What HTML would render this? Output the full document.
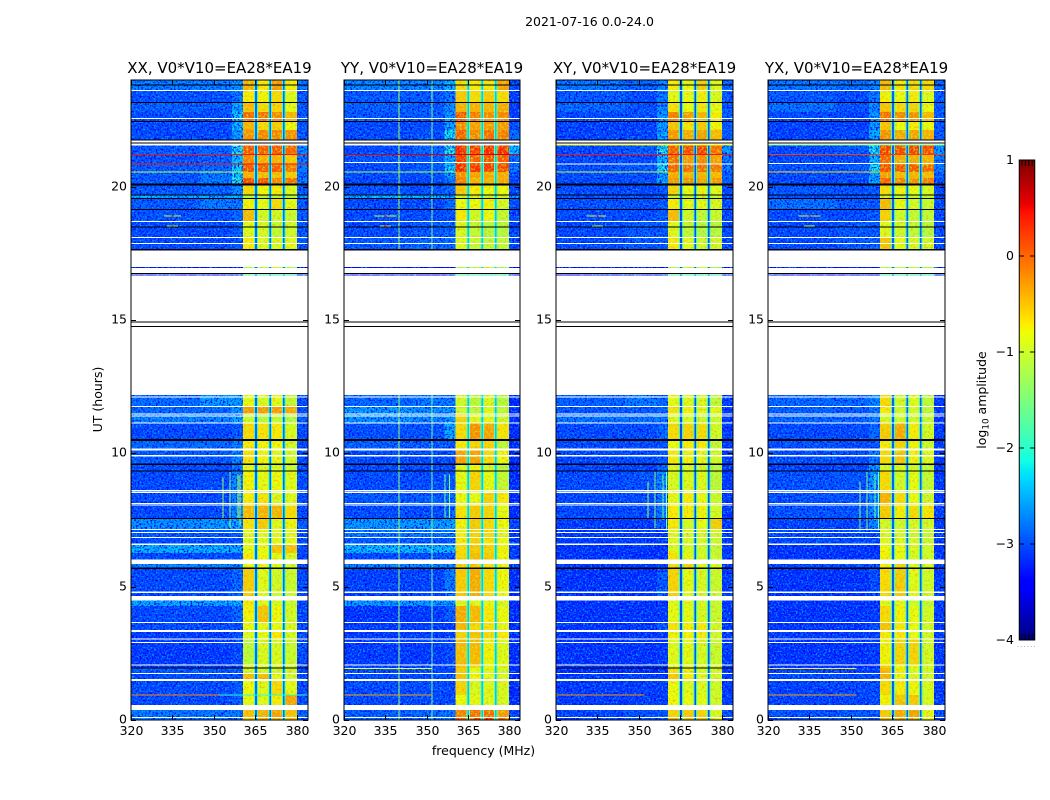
<!DOCTYPE html>
<html lang="en">
<head>
<meta charset="utf-8">
<title>2021-07-16 0.0-24.0</title>
<style>
html,body{margin:0;padding:0;background:#fff;}
#stage{display:block;width:1050px;height:800px;}
text{font-family:"DejaVu Sans","Liberation Sans",sans-serif;fill:#000;}
</style>
</head>
<body>
<svg id="stage" xmlns="http://www.w3.org/2000/svg" width="1050" height="800" viewBox="0 0 1050 800">
  <defs>
    <filter id="lowNoise" filterUnits="userSpaceOnUse" x="0" y="0" width="1050" height="800" color-interpolation-filters="sRGB">
      <feTurbulence type="fractalNoise" baseFrequency="0.55" numOctaves="2" seed="7" result="t"/>
      <feColorMatrix in="t" type="matrix" values="0 0 0 0 0  0 0 0 0 .62  0 0 0 0 1  3.6 0 0 0 -1.75" result="bright"/>
      <feColorMatrix in="t" type="matrix" values="0 0 0 0 0  0 0 0 0 0  0 0 0 0 1  0 4 0 0 -1.8" result="dark"/>
      <feMerge result="m"><feMergeNode in="dark"/><feMergeNode in="bright"/></feMerge>
      <feComposite in="m" in2="SourceAlpha" operator="in"/>
    </filter>
    <filter id="bandNoise" filterUnits="userSpaceOnUse" x="0" y="0" width="1050" height="800" color-interpolation-filters="sRGB">
      <feTurbulence type="fractalNoise" baseFrequency="0.45" numOctaves="2" seed="11" result="t"/>
      <feColorMatrix in="t" type="matrix" values="0 0 0 0 1  0 0 0 0 .6  0 0 0 0 0  3 0 0 0 -1.5" result="warm"/>
      <feColorMatrix in="t" type="matrix" values="0 0 0 0 .7  0 0 0 0 1  0 0 0 0 .2  0 3 0 0 -1.4" result="cool"/>
      <feMerge result="m"><feMergeNode in="warm"/><feMergeNode in="cool"/></feMerge>
      <feComposite in="m" in2="SourceAlpha" operator="in"/>
    </filter>
  </defs>
  <text x="589.5" y="26" font-size="12.5" text-anchor="middle">2021-07-16 0.0-24.0</text>
  <text x="0" y="0" font-size="12.5" text-anchor="middle" transform="translate(102 399.5) rotate(-90)">UT (hours)</text>
  <text x="483.5" y="755" font-size="12.5" text-anchor="middle">frequency (MHz)</text>
  <text x="0" y="0" font-size="12.5" text-anchor="middle" transform="translate(986 400) rotate(-90)">log<tspan font-size="8.8" dy="2.5">10</tspan><tspan dy="-2.5"> amplitude</tspan></text>
  <g id="panels"></g>
  <g id="colorbar"></g>
</svg>
<script>
// ---------- categories and ticks ----------
const panelTitles = ["XX, V0*V10=EA28*EA19", "YY, V0*V10=EA28*EA19", "XY, V0*V10=EA28*EA19", "YX, V0*V10=EA28*EA19"];
const freqTicks = [320, 335, 350, 365, 380];
const utTicks = [0, 5, 10, 15, 20];
const colorbarTicks = [1, 0, -1, -2, -3, -4];
const colorbarTickLabels = ["1", "0", "\u22121", "\u22122", "\u22123", "\u22124"];

// frequency channels (MHz); each channel reads a column of a matrix row, or a panel's gap levels
const channelEdges = [320, 345, 356.5, 360.5, 364.55, 364.9, 365.5, 365.85, 369.65, 370, 370.6, 370.95, 374.55, 374.9, 375.5, 375.85, 380, 384];
const channelSource = [0, 1, 2, 3, "edge", "gap", "edge", 4, "edge", "gap", "edge", 5, "edge", "gap", "edge", 6, 7];
const gapLevels = [-2.9, -2.4, -3, -2.9];
const gapEdgeLevels = [-1.9, -1.6, -2, -1.9];

// time rows: [UT start, UT end], hours
const rowSpans = [
[24.00,23.59],[23.59,23.17],[23.17,22.80],[22.80,22.46],[22.46,22.13],[22.13,21.75],[21.56,21.19],[21.19,20.84],
[20.84,20.55],[20.55,20.33],[20.33,20.06],[20.06,19.69],[19.69,19.54],[19.54,19.16],[19.16,18.67],[18.67,18.11],
[18.11,17.64],[16.98,16.95],[16.70,16.66],[12.19,11.76],[11.76,11.48],[11.48,11.14],[11.14,10.52],[10.50,10.14],
[10.14,9.59],[9.59,9.33],[9.33,8.54],[8.54,8.08],[8.08,7.56],[7.56,7.14],[7.14,6.85],[6.85,6.59],
[6.59,6.26],[6.26,6.00],[5.85,5.69],[5.69,4.50],[4.50,4.28],[4.28,3.66],[3.66,3.38],[3.30,3.03],
[3.03,2.07],[2.07,1.95],[1.95,1.75],[1.75,1.54],[1.46,0.94],[0.94,0.56],[0.375,0.09],[0.09,0.00]];

// log10 amplitude per row: [320-345, 345-356.5, 356.5-360.5, band1, band2, band3, band4, 380-384]
const rowsXX = [
[-2.65,-2.65,-2.5,-.35,-.7,-.2,-.7,-2.7],[-2.95,-2.95,-2.7,-.7,-.75,-.6,-.9,-2.9],[-2.85,-2.9,-2.4,-.4,-.6,-.55,-.85,-2.9],[-3,-3,-2.2,.05,.05,-.1,-.35,-2.9],
[-3,-3,-2.3,-.35,-.6,-.5,-.8,-2.9],[-3,-3,-2.5,-.15,-.1,-.1,-.15,-2.9],[-2.9,-2.8,-2,.15,.15,.2,.1,-2.6],[-2.95,-2.85,-2.3,-.1,-.35,-.35,-.5,-2.7],
[-2.9,-2.8,-2.2,.2,.15,.15,0,-2.7],[-2.9,-2.7,-2.2,-.35,-.4,-.4,-.5,-2.8],[-2.9,-2.7,-2,.25,.2,-.1,.05,-2.7],[-2.9,-2.8,-2.6,-.6,-.75,-.7,-.9,-2.9],
[-2.4,-2.4,-2.4,-1.2,-1.2,-1.2,-1.2,-2.5],[-2.9,-2.7,-2.7,-.75,-.85,-.6,-.85,-2.9],[-2.95,-2.95,-2.8,-.4,-1,-1,-1.05,-2.9],[-3,-3,-2.9,-.9,-.95,-1.1,-1,-2.9],
[-3,-3,-2.9,-.7,-.9,-.95,-.85,-2.9],[-3.5,-3.5,-3.5,-1.2,-1.1,-.95,-1.3,-3.5],[-3.6,-3.6,-3.6,-2,-2.1,-2.2,-2.2,-3.6],[-2.8,-2.5,-2.5,-.85,-.95,-.85,-1.1,-3],
[-2.8,-2.8,-2.5,-.2,-.2,-.2,-.3,-3],[-2.6,-2.6,-2.4,-1.05,-1.2,-1.1,-1.2,-2.9],[-3,-3,-2.9,-.6,-.65,-.7,-.95,-3],[-2.8,-2.8,-2.7,-.7,-.75,-.8,-1,-3],
[-2.9,-2.9,-2.6,-.65,-.75,-.85,-1,-3],[-3,-3,-2.7,-.9,-.95,-.95,-1.05,-3],[-3,-3,-2.6,-.75,-.85,-.8,-.9,-3],[-3,-3,-2.6,-.7,-.65,-.95,-.9,-3],
[-3,-3,-2.6,-.4,-.35,-.35,-.6,-3],[-2.55,-2.5,-2.4,-.65,-.5,-.9,-.75,-2.9],[-2.9,-2.9,-2.9,-.9,-.9,-.9,-.9,-3],[-3,-3,-3,-.9,-.9,-.85,-.85,-3],
[-2.35,-2.35,-2.4,-.85,-.8,-.45,-.45,-3],[-3,-3,-3,-.7,-.8,-.85,-.95,-3],[-2.6,-2.6,-2.6,-.85,-.85,-.9,-1,-3],[-3,-3,-2.8,-.5,-.9,-1,-1.05,-3],
[-2.45,-2.45,-2.4,-.7,-.9,-.95,-1.05,-3],[-3,-3,-2.8,-.75,-.45,-.8,-1,-3],[-3,-3,-3,-.85,-.85,-.85,-.95,-3],[-3.1,-3.1,-3,-.9,-.85,-.7,-1,-3],
[-3.1,-3.1,-3,-1.15,-.95,-.95,-1.05,-3],[-3.1,-3.1,-3.1,-.9,-.9,-.95,-1,-3],[-2.9,-2.9,-2.9,-1,-1,-1,-1,-3],[-3,-3,-3,-.4,-.4,-.85,-1,-3],
[-3,-3,-2.9,-.8,-.9,-.6,-.85,-3],[-3,-3,-2.9,-.85,-.9,-.7,-.25,-3],[-2.7,-2.7,-2.7,-.45,-.35,-.25,-.45,-2.8],[-2.7,-2.7,-2.7,-.45,-.35,-.25,-.45,-2.8]];
const rowsYY = [
[-2.6,-2.6,-2.3,-.6,-.7,-.7,-.25,-3],[-2.9,-2.9,-2.7,-.5,-.6,-.5,-.6,-3.1],[-2.85,-2.9,-2.6,-.35,-.35,-.35,-.3,-3.1],[-2.9,-2.9,-2.5,.2,0,-.1,-.1,-3.1],
[-3,-3,-2.4,-.1,-.25,-.2,-.2,-3],[-3,-2.95,-2.1,.15,-.1,.05,-.05,-2.8],[-3,-2.8,-2,.45,.35,.45,.4,-2.3],[-2.9,-2.9,-2.4,.35,.15,.25,.15,-2.8],
[-3,-2.9,-2.2,.45,.35,.3,.25,-2.7],[-3,-3,-2.5,-.15,-.25,-.3,-.3,-3],[-3,-3,-2.7,-.05,-.35,-.35,-.3,-3],[-2.95,-2.95,-2.8,-.5,-.7,-.8,-.8,-3],
[-2.3,-2.3,-2.2,-1.05,-1.05,-1.05,-1.05,-2.5],[-3,-3,-2.8,-.8,-.8,-.75,-1,-3],[-3,-3,-2.9,-.7,-1,-.8,-1.1,-3],[-3,-2.9,-2.8,-.95,-1.1,-1.2,-1.2,-3],
[-2.9,-2.8,-2.8,-.9,-1.05,-1.1,-1.1,-3],[-3.5,-3.5,-3.5,-1.2,-1.1,-.95,-1.3,-3.5],[-3.6,-3.6,-3.6,-2,-2.1,-2.2,-2.2,-3.6],[-2.8,-2.7,-2.7,-1,-1.2,-.95,-1.2,-3.2],
[-2.5,-2.55,-2.5,-1,-1.15,-.9,-1.15,-3.2],[-2.5,-2.6,-2.5,-.55,-.9,-.9,-1.05,-3.2],[-2.95,-2.95,-2.4,-.6,-.15,-.25,-.65,-3.2],[-2.85,-2.9,-2.9,-.7,-.55,-.55,-1.15,-3.2],
[-3,-3,-3,-.25,-.25,-.6,-.8,-3.2],[-3,-3,-3,-.9,-.8,-1,-1.2,-3.2],[-3,-3,-2.9,-.85,-.55,-.85,-1.1,-3.2],[-2.9,-2.9,-2.8,-.8,-.85,-.55,-.7,-3.2],
[-3,-3,-2.8,-.65,-.5,-.55,-.85,-3.2],[-2.5,-2.5,-2.4,-.75,-.5,-.6,-.8,-3],[-2.7,-2.7,-2.7,-.75,-.55,-.6,-.9,-3.1],[-2.9,-2.9,-2.9,-.7,-.55,-.65,-.8,-3.1],
[-2.3,-2.3,-2.3,-.6,-.5,-.55,-.75,-3.1],[-3,-3,-3,-.6,-.4,-.5,-.8,-3.1],[-2.6,-2.6,-2.6,-.55,-.5,-.65,-.85,-3.1],[-3.05,-3.05,-2.7,-.5,-.3,-.6,-.8,-3.2],
[-2.5,-2.5,-2.5,-.9,-.9,-.85,-1,-3.2],[-3.15,-3.1,-2.9,-.3,-.4,-.7,-.8,-3.2],[-3.1,-3.1,-3.1,-.4,-.6,-.65,-.85,-3.2],[-3.1,-3.1,-3.1,-.55,-.45,-.6,-.7,-3.2],
[-3.1,-3.1,-3,-.4,-.4,-.75,-.9,-3.2],[-3,-3,-3,-.45,-.55,-.85,-.95,-3.2],[-3,-3,-3,-.5,-.85,-.9,-1,-3.2],[-3,-3,-2.9,-.45,-.8,-.85,-.95,-3.2],
[-3,-3,-3,-.55,-.95,-.9,-.95,-3.2],[-3,-3,-3,-.8,-.85,-.9,-.95,-3.2],[-2.85,-2.8,-2.7,-.05,.05,.05,-.2,-3],[-2.85,-2.8,-2.7,.25,.3,.45,.15,-3]];
const rowsXY = [
[-2.7,-2.8,-2.6,-.7,-.8,-.5,-.9,-2.8],[-2.9,-3,-2.7,-.85,-.8,-.7,-.95,-2.9],[-2.8,-2.95,-2.6,-.65,-.8,-.65,-.85,-2.9],[-3,-3,-2.5,-.05,-.2,-.35,-.7,-2.9],
[-3.05,-3.05,-2.5,-.45,-.65,-.5,-.75,-2.9],[-3.05,-3,-2.4,-.2,-.3,-.25,-.4,-2.9],[-3,-2.9,-2,.15,.25,.3,.05,-2.5],[-3,-3,-2.3,.05,-.2,-.1,-.25,-2.7],
[-2.95,-2.9,-2.1,.1,.05,.05,0,-2.7],[-3,-3,-2.5,-.3,-.35,-.35,-.4,-2.9],[-3,-2.95,-2.4,-.2,-.15,-.25,-.2,-2.9],[-3,-3,-2.9,-.55,-.8,-.75,-.9,-3],
[-2.95,-2.95,-2.9,-1.1,-1.1,-1.1,-1.1,-3],[-2.95,-2.95,-2.9,-.7,-.85,-.85,-.95,-3],[-3,-3,-2.9,-.4,-1,-1.1,-1.05,-3],[-3,-2.9,-2.9,-.9,-1.1,-1.2,-1.2,-3],
[-3,-2.9,-2.9,-.7,-.85,-1,-1,-3],[-3.5,-3.5,-3.5,-1.2,-1.1,-.95,-1.3,-3.5],[-3.6,-3.6,-3.6,-2,-2.1,-2.2,-2.2,-3.6],[-2.85,-2.7,-2.8,-.85,-.9,-.95,-1.15,-3.1],
[-2.9,-2.9,-2.8,-.65,-.75,-.85,-.85,-3.1],[-2.7,-2.7,-2.7,-.95,-.95,-1.05,-1.05,-3.1],[-3,-3,-2.8,-.6,-.55,-.6,-1,-3.1],[-3,-3,-3,-.8,-.7,-.7,-1.1,-3.1],
[-3,-3,-2.9,-.7,-.75,-.85,-1,-3.1],[-3.05,-3.05,-2.8,-.9,-.95,-1,-1.15,-3.1],[-3,-2.95,-2.6,-.95,-.9,-.9,-1.15,-3.1],[-3,-3,-2.7,-.85,-.7,-.8,-1.05,-3.1],
[-3,-3,-2.7,-.7,-.7,-.75,-1,-3.1],[-3.1,-3.1,-2.9,-.7,-.95,-.8,-.5,-3.1],[-3.1,-3.1,-3.1,-.9,-.9,-.95,-1,-3.1],[-3.1,-3.1,-3.1,-.9,-.95,-.95,-1.05,-3.1],
[-3.15,-3.15,-3.15,-.9,-.95,-1,-1.1,-3.1],[-3.15,-3.15,-3.15,-.65,-.85,-.95,-1.05,-3.1],[-3.1,-3.1,-3.1,-.6,-.55,-.9,-.95,-3.1],[-3.15,-3.15,-2.9,-.55,-.85,-.95,-1.05,-3.1],
[-3.15,-3.15,-3.15,-.9,-.9,-.95,-1.05,-3.1],[-3.15,-3.15,-3.1,-.85,-.85,-.95,-1.05,-3.1],[-3.15,-3.15,-2.9,-.65,-.75,-.7,-1,-3.1],[-3.15,-3.15,-3.1,-.75,-.75,-.7,-1,-3.1],
[-3.15,-3.15,-3.1,-.9,-.85,-.95,-1.05,-3.1],[-3.15,-3.15,-3.15,-.8,-.85,-.9,-1,-3.1],[-3.2,-3.2,-3.2,-.65,-.75,-.9,-1,-3.1],[-3.1,-3.1,-3.1,-.5,-.7,-.9,-1,-3.1],
[-3.1,-3.1,-3.1,-.8,-.9,-.9,-1,-3.1],[-3.1,-3.1,-3.1,-.8,-.8,-.85,-1,-3.1],[-3.05,-2.95,-2.9,-.55,-.5,-.55,-.95,-3],[-3.05,-2.95,-2.9,-.35,-.4,-.4,-.9,-3]];
const rowsYX = [
[-2.7,-2.75,-2.6,-.4,-.7,-.6,-.6,-2.8],[-2.9,-3,-2.7,-.75,-.8,-.7,-.9,-2.9],[-2.75,-2.95,-2.6,-.45,-.6,-.55,-.8,-2.9],[-3,-3,-2.5,.05,-.1,-.15,-.4,-2.9],
[-3.05,-3.05,-2.5,-.45,-.8,-.7,-.8,-2.9],[-3.05,-3,-2.4,-.15,-.3,-.25,-.35,-2.9],[-3,-2.9,-2.1,.3,.25,.3,.25,-2.5],[-3,-3,-2.3,.1,-.3,-.3,-.35,-2.7],
[-2.95,-2.9,-2.1,.2,.2,.15,.1,-2.7],[-3,-3,-2.5,-.25,-.4,-.35,-.4,-2.9],[-3,-2.95,-2.4,.1,-.1,-.15,-.05,-2.9],[-2.9,-2.95,-2.9,-.6,-.75,-.8,-.95,-3],
[-2.95,-2.95,-2.9,-1.1,-1.1,-1.1,-1.1,-3],[-2.75,-2.9,-2.9,-.4,-.8,-.95,-1.05,-3],[-3,-3,-2.9,-.55,-1,-1.05,-1.1,-3],[-3,-2.9,-2.9,-.9,-1,-1.1,-1.2,-3],
[-3,-2.9,-2.9,-.45,-.85,-.95,-1,-3],[-3.5,-3.5,-3.5,-1.2,-1.1,-.95,-1.3,-3.5],[-3.6,-3.6,-3.6,-2,-2.1,-2.2,-2.2,-3.6],[-2.8,-2.8,-2.6,-.6,-1,-.9,-1.15,-3.1],
[-2.85,-2.9,-2.7,-.7,-1,-.95,-1.15,-3.1],[-2.8,-2.8,-2.7,-1,-1,-1,-1.1,-3.1],[-3,-3,-2.8,-.5,-.3,-.7,-1,-3.1],[-2.95,-3,-2.9,-.7,-.55,-.75,-1.05,-3.1],
[-2.95,-3,-2.7,-.6,-.45,-.75,-.9,-3.1],[-3.05,-3.05,-2.5,-.95,-.95,-1,-1.1,-3.1],[-2.95,-2.95,-2.5,-.6,-1,-.85,-1.1,-3.1],[-2.95,-2.95,-2.6,-.35,-.6,-.8,-1,-3.1],
[-2.95,-2.95,-2.6,-.5,-.7,-.6,-.65,-3.1],[-3.05,-3.05,-2.6,-1,-1,-.95,-1,-3.1],[-3,-3,-3,-.95,-.95,-1,-1.05,-3.1],[-3,-3,-3,-.9,-.9,-.95,-1.05,-3.1],
[-3.15,-3.15,-3.15,-.8,-.8,-.9,-1,-3.1],[-3.15,-3.15,-3.15,-.75,-.8,-.95,-1,-3.1],[-3,-3,-2.9,-.7,-.55,-.85,-1,-3.1],[-3.15,-3.15,-3,-.6,-.5,-.85,-1,-3.1],
[-3.15,-3.15,-3.15,-.9,-.85,-1,-1.1,-3.1],[-3.15,-3.15,-3.1,-.6,-.75,-.8,-1,-3.1],[-3.15,-3.15,-3,-.45,-.7,-.8,-1,-3.1],[-3.1,-3.1,-3.1,-.7,-.7,-.8,-1,-3.1],
[-3.15,-3.15,-3.1,-.75,-.55,-.55,-1,-3.1],[-3.15,-3.15,-3.15,-.55,-.8,-.9,-1,-3.1],[-3.05,-3.05,-3.05,-.4,-.7,-.9,-1,-3.1],[-3,-3,-3,-.35,-.85,-.9,-1,-3.1],
[-3.05,-3.05,-3,-.6,-.7,-.75,-.95,-3.1],[-3.05,-3.05,-3,-.75,-.45,-.5,-.95,-3.1],[-2.95,-2.9,-2.9,-.5,-.3,-.25,-.85,-3],[-2.95,-2.9,-2.9,-.4,-.25,-.25,-.8,-3]];
const panelMatrices = [rowsXX, rowsYY, rowsXY, rowsYX];

// flagged integrations shared by all panels: [UT centre, duration in hours]
const whiteFlags = [
[23.6,.04],[22.56,.04],[21.69,.04],[21.56,.04],[18.69,.04],[18.1,.04],[17.87,.04],[12.11,.04],[11.76,.04],[11.48,.04],[11.4,.04],[11.14,.05],
[10.14,.07],[9.91,.04],[8.6,.04],[8.54,.04],[8.12,.04],[8.06,.04],[7.14,.04],[7.03,.04],[6.85,.04],[6.59,.04],[5.93,.16],[4.79,.04],
[4.57,.16],[3.66,.04],[3.34,.08],[3.03,.04],[2.9,.04],[2.07,.04],[1.75,.04],[1.5,.08],[.47,.19],[.09,.04]];
const blackFlags = [
[23.81,.04],[23.16,.04],[22.45,.04],[21.75,.04],[21.64,.04],[20.08,.08],[19.69,.04],[19.56,.04],[19.15,.04],[18.48,.04],[17.64,.05],[16.75,.04],
[14.93,.04],[14.75,.04],[10.5,.07],[9.59,.04],[9.33,.04],[7.56,.04],[5.69,.04]];
const panelWhiteFlags = [[], [[20.91,.04]], [[20.85,.04]], [[20.87,.04]]];
const panelBlackFlags = [[[1.95,.04]], [], [[1.95,.04]], []];

// narrowband interference, horizontal: [UT, start MHz, end MHz, log10 amplitude]
const rfiRowsXX = [[21.2,320,384,.45],[20.85,320,384,.45],[20.55,320,360.5,-1],[18.9,332,338,-1],[18.9,334.6,335.4,.3],[18.52,333,337,-1.2],[18.52,334.6,335.4,0],[.93,320,352,-.15],[.93,352,384,-2]];
const rfiRowsYY = [[21.21,320,384,.6],[20.55,320,360.5,-1.2],[18.9,331,339,-1],[18.9,334.6,335.4,.4],[18.52,333,337,-1.2],[18.52,334.6,335.4,.2],[1.94,320,352,-.8],[.93,320,352,-.3]];
const rfiRowsXY = [[21.2,320,384,.45],[21.56,320,384,-.8],[20.55,320,360.5,-1],[18.9,331,338,-1],[18.9,334.6,335.4,.4],[18.52,333,337,-1.2],[.93,320,352,-.2]];
const rfiRowsYX = [[21.2,320,384,.25],[21.56,320,384,-1.5],[20.55,320,360.5,-.6],[18.9,331,339,-1],[18.9,334.6,335.4,.4],[18.52,333,337,-1.2],[1.94,320,352,-.7],[.93,320,352,-.3]];
const panelRfiRows = [rfiRowsXX, rfiRowsYY, rfiRowsXY, rfiRowsYX];

// narrowband interference, vertical: [MHz, UT start, UT end, log10 amplitude]
const rfiColsXX = [[353.3,9.1,7.55,-1.3],[355.8,9.3,7.2,-1.4],[358.7,9.2,7.55,-1.2],[359.5,9.2,7.3,-1.2]];
const rfiColsYY = [[340,24,17.64,-1.25],[340,12.19,0,-1.35],[352,24,17.64,-1.5],[352,12.19,0,-1.6],[356.8,9.2,7.55,-1.6],[358.4,9.2,7.55,-1.5]];
const rfiColsXY = [[353.2,8.95,7.55,-1.2],[355.8,9.3,7.2,-1.5],[358.7,9.2,7.5,-1.6],[360,9.3,7.1,-1.3]];
const rfiColsYX = [[353.2,8.95,7.1,-1.4],[355.8,9.3,7.1,-1.5],[358.7,9.2,7.5,-1.6],[360,9.3,7.1,-1.4]];
const panelRfiCols = [rfiColsXX, rfiColsYY, rfiColsXY, rfiColsYX];

// ---------- axis and colour functions ----------
const plotTop = 80, plotBottom = 720;
const freqMin = 320, freqMax = 384, utMin = 0, utMax = 24, levelMin = -4, levelMax = 1;
const cbLeft = 1019, cbRight = 1035, cbTop = 160, cbBottom = 640;
const SVGNS = "http://www.w3.org/2000/svg";

function frameLeft(i) { return i === 0 ? 131 : 344 + 212 * (i - 1); }
function frameWidth(i) { return i === 1 ? 176 : 177; }
function xScale(i, f) { return frameLeft(i) + (f - freqMin) / (freqMax - freqMin) * frameWidth(i); }
function yScale(ut) { return plotBottom - (ut - utMin) / (utMax - utMin) * (plotBottom - plotTop); }
function cbScale(v) { return cbBottom - (v - levelMin) / (levelMax - levelMin) * (cbBottom - cbTop); }

function jet(v) {
  const t = Math.max(0, Math.min(1, (v - levelMin) / (levelMax - levelMin)));
  const ramp = function (x, pts) {
    for (let k = 1; k < pts.length; k++) {
      if (x <= pts[k][0]) {
        const a = pts[k - 1], b = pts[k];
        return a[1] + (b[1] - a[1]) * (x - a[0]) / (b[0] - a[0]);
      }
    }
    return pts[pts.length - 1][1];
  };
  const r = ramp(t, [[0, 0], [.35, 0], [.66, 1], [.89, 1], [1, .5]]);
  const g = ramp(t, [[0, 0], [.125, 0], [.375, 1], [.64, 1], [.91, 0], [1, 0]]);
  const b = ramp(t, [[0, .5], [.11, 1], [.34, 1], [.65, 0], [1, 0]]);
  return "rgb(" + Math.round(r * 255) + "," + Math.round(g * 255) + "," + Math.round(b * 255) + ")";
}

function add(parent, tag, attrs) {
  const el = document.createElementNS(SVGNS, tag);
  for (const k in attrs) el.setAttribute(k, attrs[k]);
  parent.appendChild(el);
  return el;
}

// ---------- draw panels ----------
const panelsRoot = document.getElementById("panels");
panelTitles.forEach(function (title, i) {
  const panel = add(panelsRoot, "g", {});
  
  

  const x0 = xScale(i, freqMin), x1 = xScale(i, freqMax);

  // heatmap cells
  const cells = add(panel, "g", { "shape-rendering": "crispEdges" });
  
  
  panelMatrices[i].forEach(function (row, r) {
    const span = rowSpans[r];
    channelSource.forEach(function (src, c) {
      const value = src === "gap" ? gapLevels[i] : src === "edge" ? gapEdgeLevels[i] : row[src];
      const left = xScale(i, channelEdges[c]), right = xScale(i, channelEdges[c + 1]);
      const cell = add(cells, "rect", {
        x: left, y: yScale(span[0]),
        width: right - left, height: yScale(span[1]) - yScale(span[0]),
        fill: jet(value)
      });
      
      
    });
  });

  // receiver noise texture over the data rows
  const lowTexture = add(panel, "g", { filter: "url(#lowNoise)", "shape-rendering": "crispEdges" });
  
  
  const bandTexture = add(panel, "g", { filter: "url(#bandNoise)", opacity: ".8", "shape-rendering": "crispEdges" });
  
  
  rowSpans.forEach(function (span) {
    const yTop = yScale(span[0]), h = yScale(span[1]) - yTop;
    const lowLeft = add(lowTexture, "rect", { x: x0, y: yTop, width: xScale(i, 360.5) - x0, height: h, fill: "#000" });
    
    
    const lowRight = add(lowTexture, "rect", { x: xScale(i, 380), y: yTop, width: x1 - xScale(i, 380), height: h, fill: "#000" });
    
    
    [[360.5, 364.55], [365.85, 369.65], [370.95, 374.55], [375.85, 380]].forEach(function (range) {
      const band = add(bandTexture, "rect", { x: xScale(i, range[0]), y: yTop, width: xScale(i, range[1]) - xScale(i, range[0]), height: h, fill: "#000" });
      
      
    });
  });

  // vertical interference
  const rfiGroup = add(panel, "g", { "shape-rendering": "crispEdges" });
  
  
  panelRfiCols[i].forEach(function (d) {
    const line = add(rfiGroup, "rect", {
      x: xScale(i, d[0]) - .5, y: yScale(d[1]), width: 1, height: yScale(d[2]) - yScale(d[1]), fill: jet(d[3])
    });
    
    
  });

  // flagged rows
  const flagGroup = add(panel, "g", { "shape-rendering": "crispEdges" });
  
  
  whiteFlags.concat(panelWhiteFlags[i]).forEach(function (d) {
    const flag = add(flagGroup, "rect", {
      x: x0, y: yScale(d[0]) - (yScale(0) - yScale(d[1])) / 2, width: x1 - x0, height: yScale(0) - yScale(d[1]), fill: "#fff"
    });
    
    
  });

  // horizontal interference
  panelRfiRows[i].forEach(function (d) {
    const line = add(rfiGroup.parentNode, "rect", {
      x: xScale(i, d[1]), y: yScale(d[0]) - .5, width: xScale(i, d[2]) - xScale(i, d[1]), height: 1, fill: jet(d[3]), "shape-rendering": "crispEdges"
    });
    
    
  });

  const darkGroup = add(panel, "g", { "shape-rendering": "crispEdges" });
  
  
  blackFlags.concat(panelBlackFlags[i]).forEach(function (d) {
    const flag = add(darkGroup, "rect", {
      x: x0, y: yScale(d[0]) - (yScale(0) - yScale(d[1])) / 2, width: x1 - x0, height: yScale(0) - yScale(d[1]), fill: "#000"
    });
    
    
  });

  // ticks
  utTicks.forEach(function (ut) {
    const y = Math.round(yScale(ut)) + .5;
    const left = add(panel, "line", { x1: x0, x2: x0 + 5, y1: y, y2: y, stroke: "#000", "stroke-width": 1 });
    
    
    const right = add(panel, "line", { x1: x1 - 5, x2: x1, y1: y, y2: y, stroke: "#000", "stroke-width": 1 });
    
    
    const label = add(panel, "text", { x: x0 - 4, y: y + 3, "font-size": 12.5, "text-anchor": "end" });
    label.textContent = String(ut);
    
    
  });
  freqTicks.forEach(function (f) {
    const x = Math.round(xScale(i, f)) + .5;
    const bottom = add(panel, "line", { x1: x, x2: x, y1: plotBottom, y2: plotBottom - 5, stroke: "#000", "stroke-width": 1 });
    
    
    const top = add(panel, "line", { x1: x, x2: x, y1: plotTop, y2: plotTop + 5, stroke: "#000", "stroke-width": 1 });
    
    
    const label = add(panel, "text", { x: x, y: 735, "font-size": 12.5, "text-anchor": "middle" });
    label.textContent = String(f);
    
    
  });

  // frame and title
  const frame = add(panel, "rect", { x: x0, y: plotTop, width: x1 - x0, height: plotBottom - plotTop, fill: "none", stroke: "#000", "stroke-width": 1 });
  
  
  const heading = add(panel, "text", { x: (x0 + x1) / 2, y: 73, "font-size": 15, "text-anchor": "middle" });
  heading.textContent = title;
  
  
});

// ---------- colorbar ----------
const cbRoot = document.getElementById("colorbar");
for (let n = 0; n < 240; n++) {
  const lo = levelMin + (levelMax - levelMin) * n / 240;
  const hi = levelMin + (levelMax - levelMin) * (n + 1) / 240;
  const seg = add(cbRoot, "rect", {
    x: cbLeft, y: cbScale(hi), width: cbRight - cbLeft, height: cbScale(lo) - cbScale(hi) + .3,
    fill: jet((lo + hi) / 2), "shape-rendering": "crispEdges"
  });
  
  
}
colorbarTicks.forEach(function (v, k) {
  const y = Math.round(cbScale(v));
  const a = add(cbRoot, "line", { x1: cbLeft, x2: cbLeft + 5, y1: y, y2: y, stroke: "#000", "stroke-width": 1 });
  
  
  const b = add(cbRoot, "line", { x1: cbRight - 5, x2: cbRight, y1: y, y2: y, stroke: "#000", "stroke-width": 1 });
  
  
  const t = add(cbRoot, "text", { x: 1014, y: y + 4, "font-size": 12.5, "text-anchor": "end" });
  t.textContent = colorbarTickLabels[k];
  
  
});
for (let n = 0; n < 4; n++) {
  const x = cbLeft + 3 + n * 3.4;
  const upper = add(cbRoot, "line", { x1: x, x2: x, y1: cbTop, y2: cbTop + 6, stroke: "#000", "stroke-width": 1 });
  
  
  const lower = add(cbRoot, "line", { x1: x, x2: x, y1: cbBottom - 6, y2: cbBottom, stroke: "#000", "stroke-width": 1 });
  
  
}
const cbFrame = add(cbRoot, "rect", { x: cbLeft + .25, y: cbTop, width: cbRight - cbLeft - .5, height: cbBottom - cbTop, fill: "none", stroke: "#000", "stroke-width": 1 });


const cbDots = add(cbRoot, "text", { x: 1017, y: 647, "font-size": 6, "letter-spacing": "1.4", fill: "#666" });
cbDots.textContent = "......";
cbDots.style.fill = "#666";


</script>
</body>
</html>
